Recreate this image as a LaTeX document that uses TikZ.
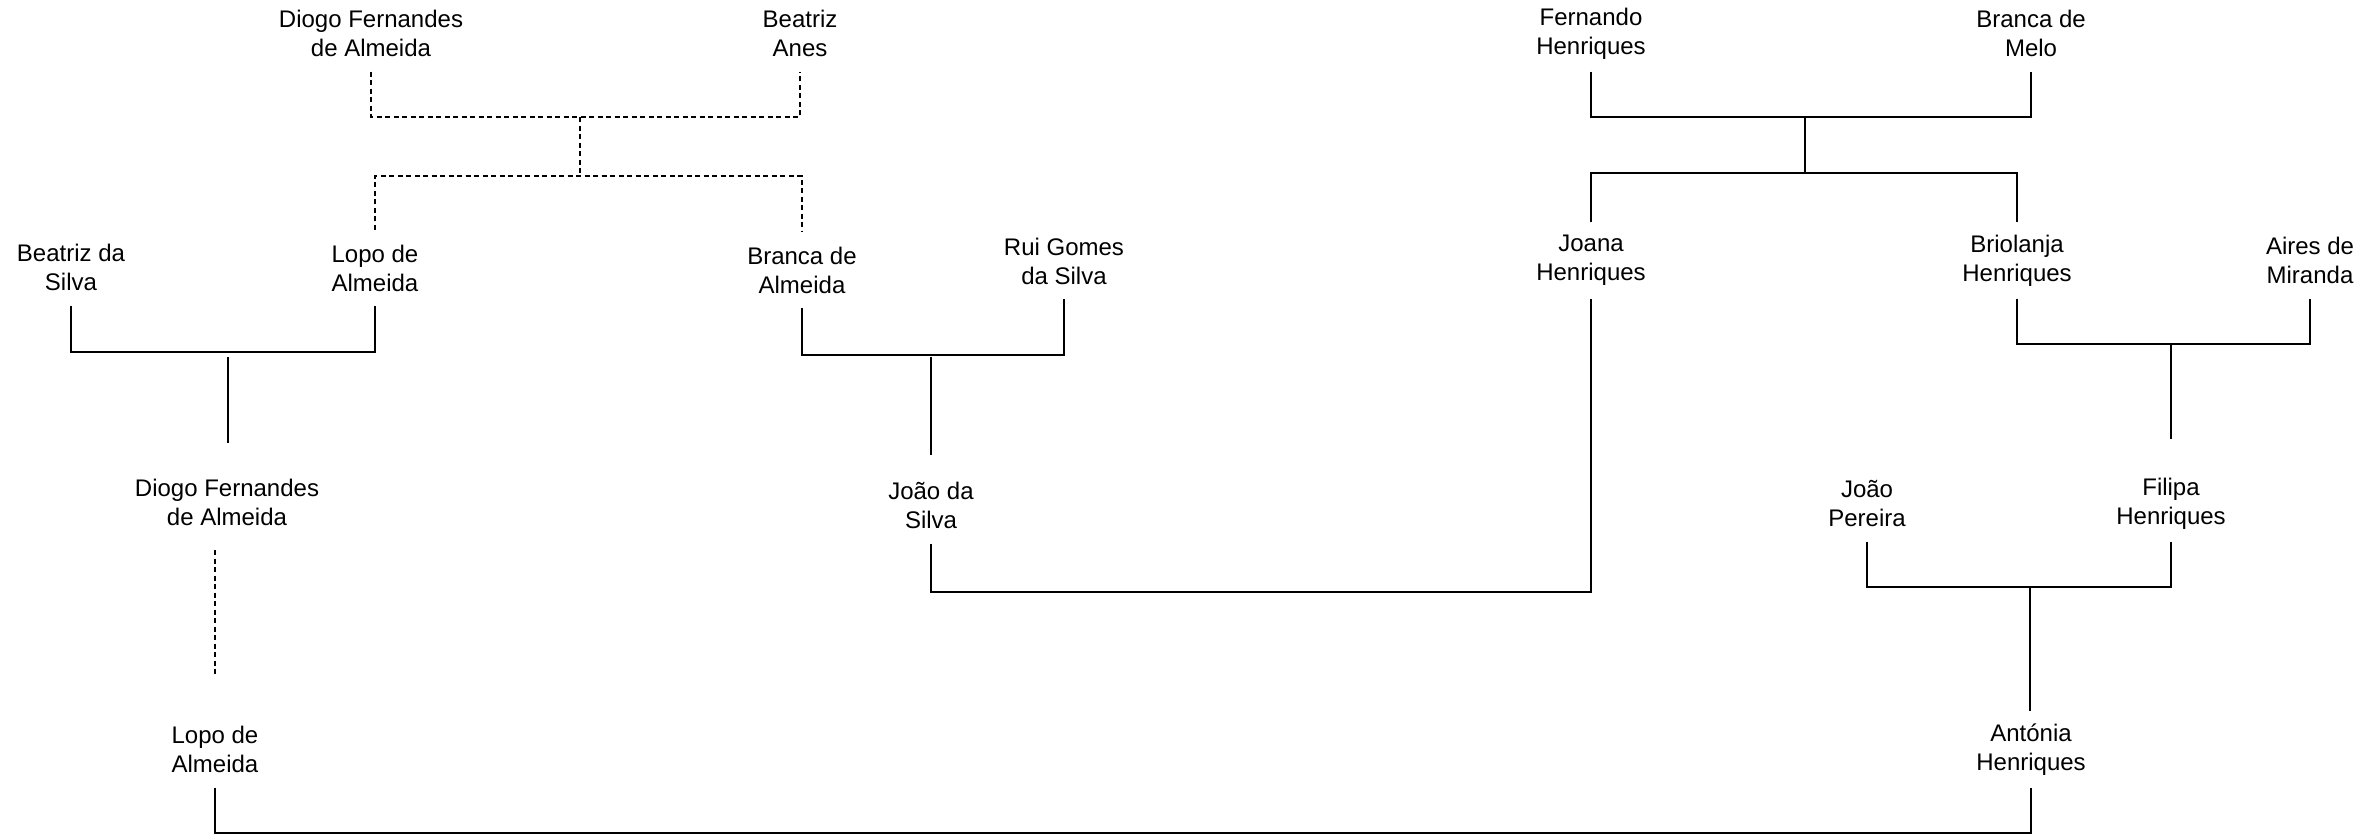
\documentclass[tikz,border=0pt]{standalone}
\usepackage{fontspec}
\setmainfont{Liberation Sans}
\begin{document}
\begin{tikzpicture}[x=1pt,y=-1pt,
  person/.style={font=\fontsize{24}{29}\selectfont, align=center, inner sep=0pt, minimum height=76pt},
  rel/.style={line width=1.4pt},
  dsh/.style={line width=1.3pt, dash pattern=on 5pt off 3.5pt}]
\useasboundingbox (0,0) rectangle (2374,835);
% generation 1
\node[person] (dfa1) at (371,33.5) {Diogo Fernandes\\de Almeida};
\node[person] (ba)   at (800,33.5) {Beatriz\\Anes};
\node[person] (fh)   at (1591,33.5) {Fernando\\Henriques};
\node[person] (bm)   at (2031,33.5) {Branca de\\Melo};
% generation 2
\node[person] (bds)  at (71,267.5) {Beatriz da\\Silva};
\node[person] (lda1) at (375,268) {Lopo de\\Almeida};
\node[person] (bda)  at (802,270) {Branca de\\Almeida};
\node[person] (rgs)  at (1064,261) {Rui Gomes\\da Silva};
\node[person] (jh)   at (1591,260.5) {Joana\\Henriques};
\node[person] (brh)  at (2017,260.5) {Briolanja\\Henriques};
\node[person] (adm)  at (2310,260.5) {Aires de\\Miranda};
% generation 3
\node[person] (dfa2) at (227,502) {Diogo Fernandes\\de Almeida};
\node[person] (jds)  at (931,505.5) {João da\\Silva};
\node[person] (jp)   at (1867,503.5) {João\\Pereira};
\node[person] (fih)  at (2171,503.5) {Filipa\\Henriques};
% generation 4
\node[person] (lda2) at (215,749.5) {Lopo de\\Almeida};
\node[person] (ah)   at (2031,749.5) {Antónia\\Henriques};

% junction coordinates
\coordinate (m1) at (580,117);
\coordinate (m2) at (580,176);
\coordinate (c2) at (228,352);
\coordinate (k2a) at (228,357);
\coordinate (k2b) at (228,443);
\coordinate (d1) at (215,550);
\coordinate (d2) at (215,677);
\coordinate (c3) at (931,355);
\coordinate (k3a) at (931,357);
\coordinate (k3b) at (931,455);
\coordinate (m3) at (1805,117);
\coordinate (m4) at (1805,173);
\coordinate (c5) at (2171,344);
\coordinate (k5) at (2171,439);
\coordinate (c6) at (1200,592);
\coordinate (c7) at (2030,587);
\coordinate (c8) at (1200,833);

% dashed descent
\draw[dsh] (dfa1.south) |- (m1) -| (ba.south);
\draw[dsh] (m1) -- (m2);
\draw[dsh] (lda1.north) |- (m2) -| (bda.north);
\draw[dsh] (d1) -- (d2);

% solid relations
\draw[rel] (bds.south) |- (c2) -| (lda1.south);
\draw[rel] (k2a) -- (k2b);
\draw[rel] (bda.south) |- (c3) -| (rgs.south);
\draw[rel] (k3a) -- (k3b);
\draw[rel] (fh.south) |- (m3) -| (bm.south);
\draw[rel] (m3) -- (m4);
\draw[rel] (jh.north) |- (m4) -| (brh.north);
\draw[rel] (brh.south) |- (c5) -| (adm.south);
\draw[rel] (c5) -- (k5);
\draw[rel] (jds.south) |- (c6) -| (jh.south);
\draw[rel] (jp.south) |- (c7) -| (fih.south);
\draw[rel] (c7) -- (c7 |- ah.north);
\draw[rel] (lda2.south) |- (c8) -| (ah.south);
\end{tikzpicture}
\end{document}
